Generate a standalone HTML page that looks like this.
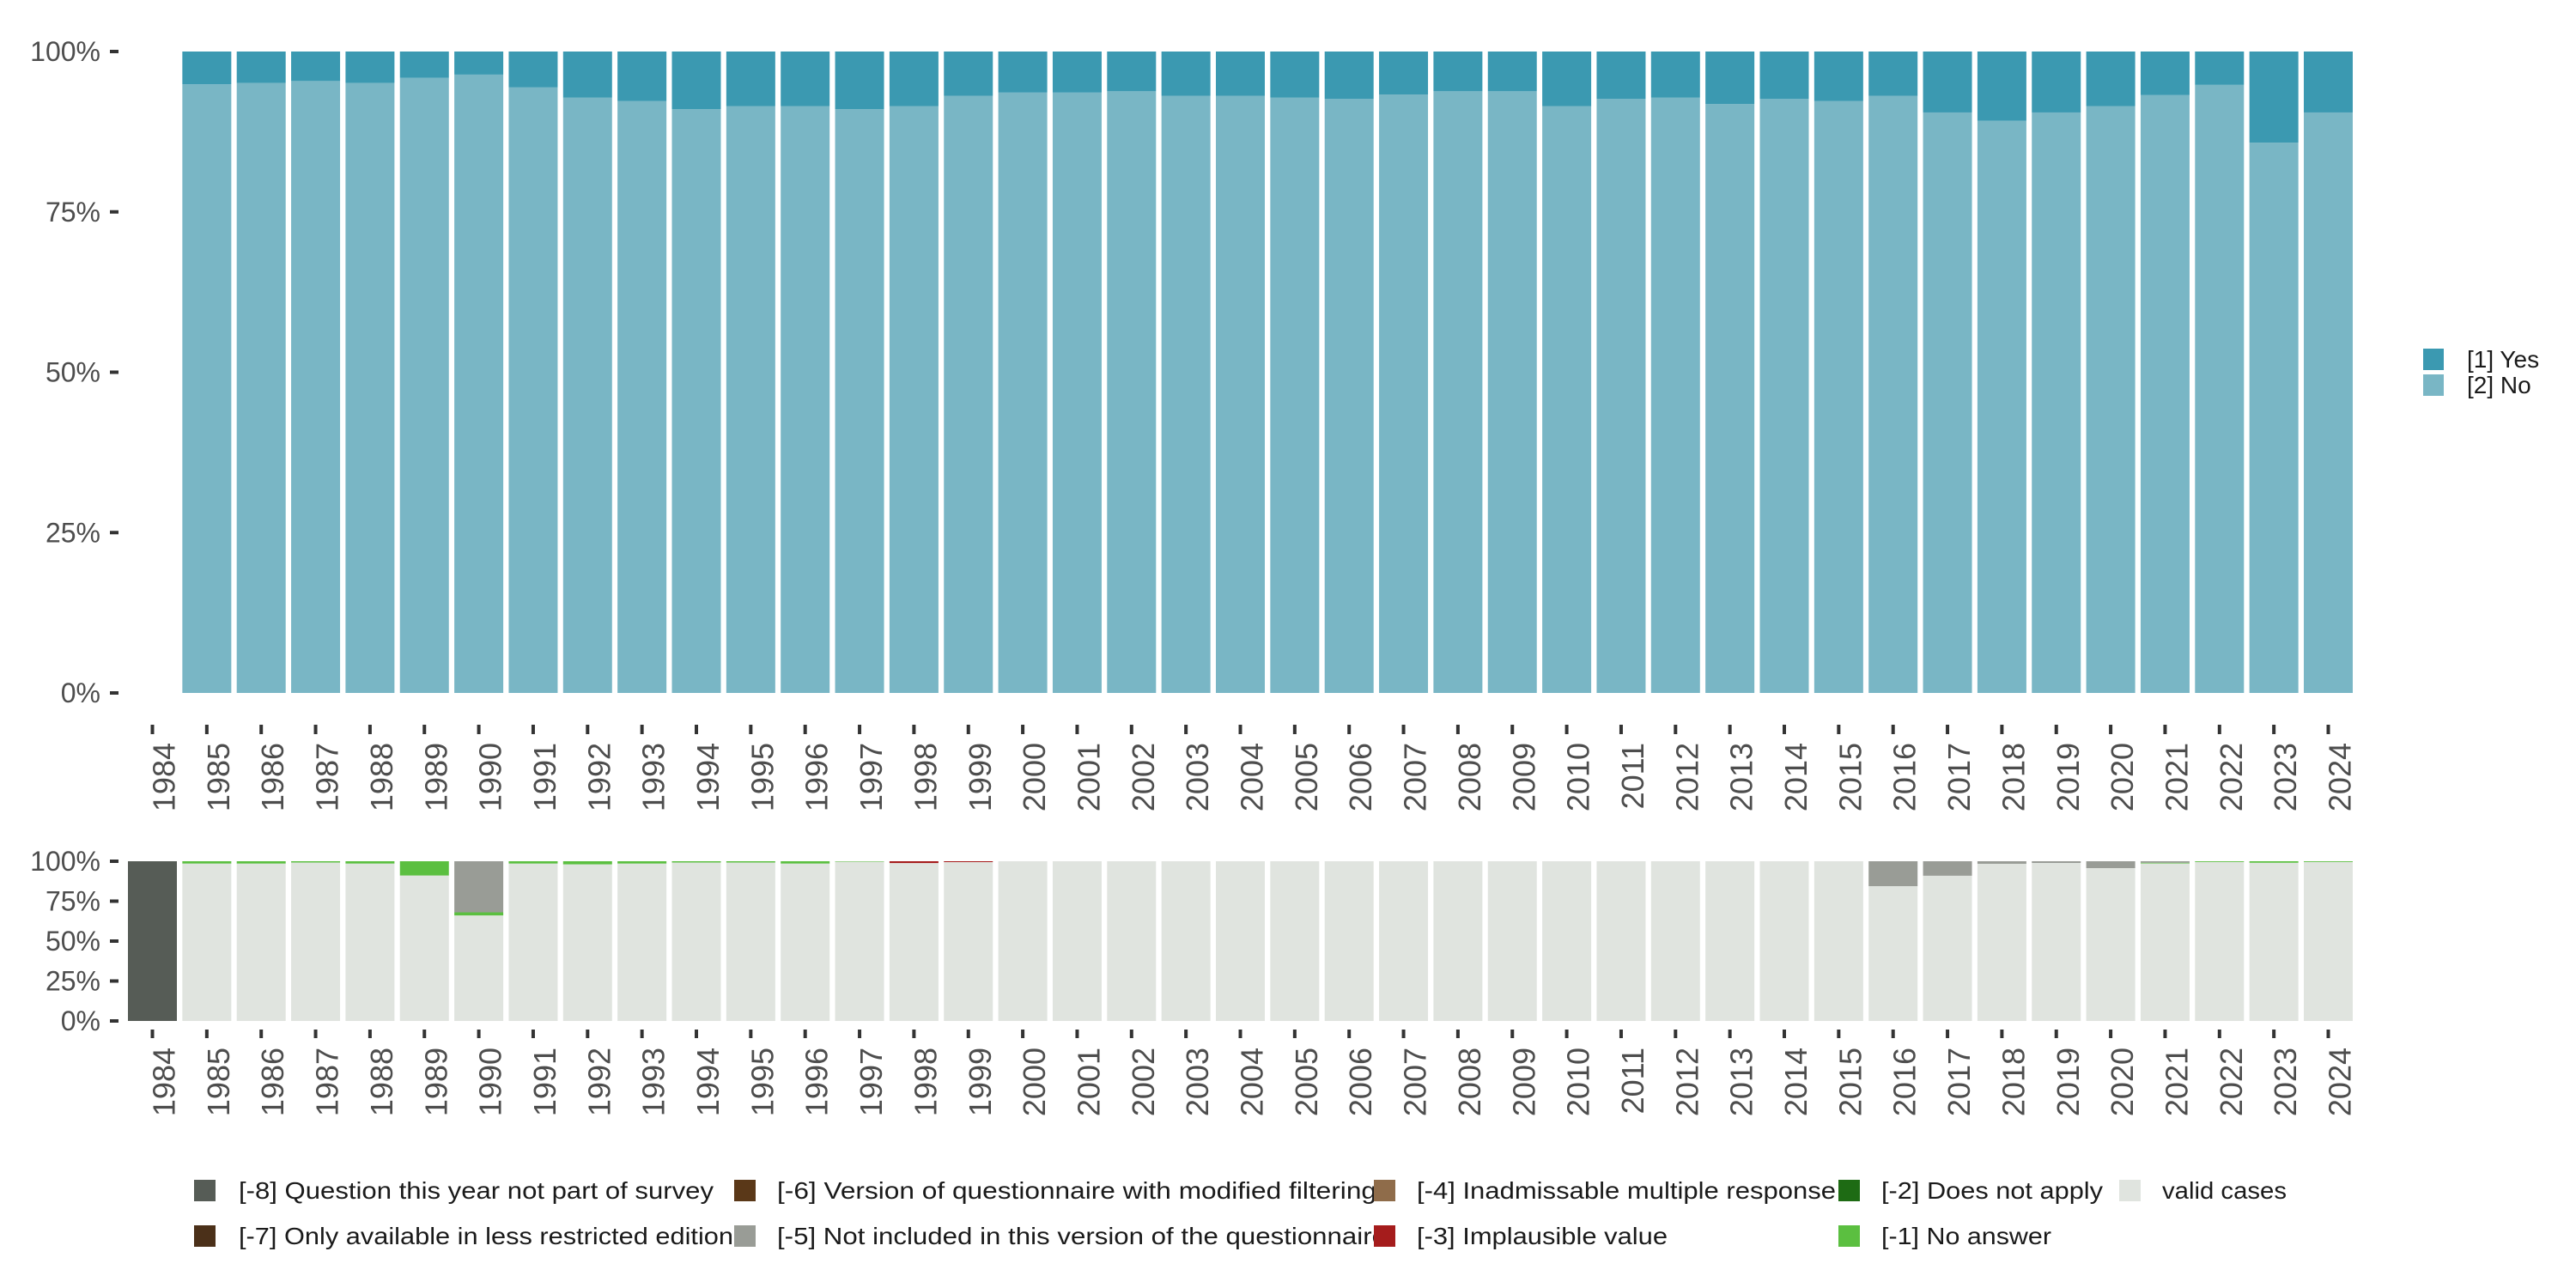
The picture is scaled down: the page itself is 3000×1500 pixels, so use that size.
<!DOCTYPE html>
<html><head><meta charset="utf-8"><style>
html,body{margin:0;padding:0;background:#fff;}
svg{display:block;font-family:"Liberation Sans",sans-serif;}
</style></head><body>
<svg id="chart" width="3000" height="1500" viewBox="0 0 3000 1500" xmlns="http://www.w3.org/2000/svg">
<g id="topPanel"></g>
<g id="botPanel"></g>
<g id="legPanel"></g>
</svg>
<script>
const years = [1984,1985,1986,1987,1988,1989,1990,1991,1992,1993,1994,1995,1996,1997,1998,1999,2000,2001,2002,2003,2004,2005,2006,2007,2008,2009,2010,2011,2012,2013,2014,2015,2016,2017,2018,2019,2020,2021,2022,2023,2024];
const yesPct = [null,5.1,4.9,4.6,4.9,4.1,3.6,5.6,7.2,7.7,9.0,8.5,8.5,9.0,8.5,6.9,6.4,6.4,6.2,6.9,6.9,7.2,7.4,6.7,6.2,6.2,8.5,7.4,7.2,8.2,7.4,7.7,6.9,9.5,10.8,9.5,8.5,6.8,5.2,14.2,9.5];
const q8 = [100,0,0,0,0,0,0,0,0,0,0,0,0,0,0,0,0,0,0,0,0,0,0,0,0,0,0,0,0,0,0,0,0,0,0,0,0,0,0,0,0];
const q5 = [0,0,0,0,0,0,32,0,0,0,0,0,0,0,0,0,0,0,0,0,0,0,0,0,0,0,0,0,0,0,0,0,15.6,9.1,1.6,1.1,4.3,1.0,0,0,0];
const q3 = [0,0,0,0,0,0,0,0,0,0,0,0,0,0,1.2,0.6,0,0,0,0,0,0,0,0,0,0,0,0,0,0,0,0,0,0,0,0,0,0,0,0,0];
const q1 = [0,1.5,1.5,0.8,1.5,9,2,1.5,2,1.5,0.8,0.8,1.5,0.3,0,0,0,0,0,0,0,0,0,0,0,0,0,0,0,0,0,0,0,0,0,0,0,0.4,0.5,1.0,0.5];
const pctTicks = [0,25,50,75,100];
const NS="http://www.w3.org/2000/svg";
function el(tag,attrs,parent){const e=document.createElementNS(NS,tag);for(const k in attrs)e.setAttribute(k,attrs[k]);parent.appendChild(e);return e;}
const xc = i => 177.5 + i*63.35;
const BW = 57;
const yTop = v => 807 - v*7.47;
const yBot = v => 1189 - v*1.86;
const gTop=document.getElementById('topPanel'), gBot=document.getElementById('botPanel'), gLeg=document.getElementById('legPanel');

function axes(g,yf,tickY0,tickY1,labY,pref){
  pctTicks.forEach(t=>{
    const y=yf(t);
    const tk=el('rect',{x:128,y:y-2,width:10,height:4,fill:'#333'},g);
    
    
    const tx=el('text',{x:117,y:y+11,'text-anchor':'end','font-size':32,fill:'#4d4d4d'},g);
    tx.textContent=t+'%';
    
    
  });
  years.forEach((yr,i)=>{
    const x=xc(i);
    const tk=el('rect',{x:x-2,y:tickY0,width:4,height:tickY1-tickY0,fill:'#333'},g);
    
    
    const tx=el('text',{x:0,y:0,'text-anchor':'end','font-size':36,fill:'#4d4d4d',transform:`translate(${x+26},${labY}) rotate(-90)`},g);
    tx.textContent=yr;
    
    
  });
}
years.forEach((yr,i)=>{
  if(yesPct[i]==null) return;
  const x=xc(i)-BW/2;
  const no=100-yesPct[i];
  const r1=el('rect',{x:x,y:yTop(no),width:BW,height:yTop(0)-yTop(no),fill:'#79b6c5'},gTop);
  
  
  const r2=el('rect',{x:x,y:yTop(100),width:BW,height:yTop(no)-yTop(100),fill:'#3b99b1'},gTop);
  
  
});
axes(gTop,yTop,844,855,865,'top');
years.forEach((yr,i)=>{
  const x=xc(i)-BW/2;
  const segs=[[q8[i],'#565c56','m8'],[q5[i],'#999c96','m5'],[q3[i],'#a51c1c','m3'],[q1[i],'#5bbf40','m1']];
  let cum=100;
  segs.forEach(s=>{
    if(s[0]<=0) return;
    const r=el('rect',{x:x,y:yBot(cum),width:BW,height:yBot(cum-s[0])-yBot(cum),fill:s[1]},gBot);
    
    
    cum-=s[0];
  });
  if(cum>0){
    const r=el('rect',{x:x,y:yBot(cum),width:BW,height:yBot(0)-yBot(cum),fill:'#e0e4df'},gBot);
    
    
  }
});
axes(gBot,yBot,1199,1209,1220,'bottom');
[['[1] Yes','#3b99b1',406],['[2] No','#79b6c5',436]].forEach(l=>{
  const r=el('rect',{x:2822,y:l[2],width:24,height:25,fill:l[1]},gLeg);
  
  
  const t=el('text',{x:2873,y:l[2]+22,'font-size':28,fill:'#1a1a1a'},gLeg);
  t.textContent=l[0];
  
  
});
const bl=[
 ['[-8] Question this year not part of survey','#565c56',226,278,1374,553],
 ['[-7] Only available in less restricted edition','#4b3019',226,278,1427,576],
 ['[-6] Version of questionnaire with modified filtering','#5a3818',855,905,1374,698],
 ['[-5] Not included in this version of the questionnaire','#999c96',855,905,1427,710],
 ['[-4] Inadmissable multiple response','#8f6c4a',1600,1650,1374,488],
 ['[-3] Implausible value','#a51c1c',1600,1650,1427,292],
 ['[-2] Does not apply','#1e6b14',2141,2191,1374,258],
 ['[-1] No answer','#5bbf40',2141,2191,1427,198],
 ['valid cases','#e0e4df',2468,2518,1374,145]
];
bl.forEach(l=>{
  const r=el('rect',{x:l[2],y:l[4],width:25,height:25,fill:l[1]},gLeg);
  
  
  const t=el('text',{x:l[3],y:l[4]+22,'font-size':28,fill:'#1a1a1a',textLength:l[5],lengthAdjust:'spacingAndGlyphs'},gLeg);
  t.textContent=l[0];
  
  
});
</script>
</body></html>
